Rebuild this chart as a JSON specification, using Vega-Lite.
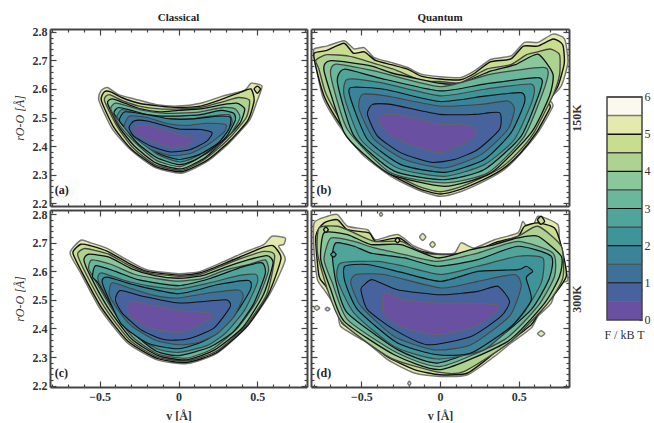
{"$schema":"https://vega.github.io/schema/vega-lite/v6.json","background":"white","padding":{"left":13,"top":11,"right":0,"bottom":0},
"params":[{"name":"xt","value":[-0.8,-0.7,-0.6,-0.5,-0.4,-0.3,-0.2,-0.1,0,0.1,0.2,0.3,0.4,0.5,0.6,0.7,0.8]},{"name":"yt","value":[2.2,2.22,2.24,2.26,2.28,2.3,2.32,2.34,2.36,2.38,2.4,2.42,2.44,2.46,2.48,2.5,2.52,2.54,2.56,2.58,2.6,2.62,2.64,2.66,2.68,2.7,2.72,2.74,2.76,2.78,2.8]},{"name":"ft","value":[0,0.2,0.4,0.6,0.8,1,1.2,1.4,1.6,1.8,2,2.2,2.4,2.6,2.8,3,3.2,3.4,3.6,3.8,4,4.2,4.4,4.6,4.8,5,5.2,5.4,5.6,5.8,6]}],
"config":{"font":"Liberation Serif","view":{"stroke":null},"range":{"ordinal":["#6a50a0","#47629d","#3d7198","#3b8398","#3f9499","#50a59b","#6bb79b","#8ac79b","#aed28f","#c9dd8e","#e4e9ad"]},"axis":{"grid":false,"domainColor":"#444","domainWidth":2,"tickColor":"#444","tickWidth":1.2,"labelFont":"Liberation Serif","labelFontWeight":"bold","labelFontSize":12,"labelColor":"#333","labelOverlap":false,"titleFont":"Liberation Serif","titleColor":"#333","titleFontSize":12}},
"datasets":{
"a":[
{"l":5.5,"v":-0.505,"r":2.56},{"l":5.5,"v":-0.49,"r":2.595},{"l":5.5,"v":-0.45,"r":2.605},{"l":5.5,"v":-0.38,"r":2.58},{"l":5.5,"v":-0.28,"r":2.565},{"l":5.5,"v":-0.14,"r":2.545},{"l":5.5,"v":0,"r":2.54},{"l":5.5,"v":0.14,"r":2.55},{"l":5.5,"v":0.28,"r":2.575},{"l":5.5,"v":0.42,"r":2.595},{"l":5.5,"v":0.46,"r":2.62},{"l":5.5,"v":0.53,"r":2.61},{"l":5.5,"v":0.5,"r":2.56},{"l":5.5,"v":0.45,"r":2.49},{"l":5.5,"v":0.32,"r":2.41},{"l":5.5,"v":0.18,"r":2.345},{"l":5.5,"v":0.02,"r":2.305},{"l":5.5,"v":-0.15,"r":2.325},{"l":5.5,"v":-0.3,"r":2.385},{"l":5.5,"v":-0.42,"r":2.46},
{"l":5,"v":-0.49,"r":2.56},{"l":5,"v":-0.47,"r":2.59},{"l":5,"v":-0.43,"r":2.59},{"l":5,"v":-0.36,"r":2.57},{"l":5,"v":-0.25,"r":2.55},{"l":5,"v":-0.12,"r":2.54},{"l":5,"v":0,"r":2.535},{"l":5,"v":0.14,"r":2.54},{"l":5,"v":0.28,"r":2.565},{"l":5,"v":0.4,"r":2.59},{"l":5,"v":0.46,"r":2.6},{"l":5,"v":0.48,"r":2.56},{"l":5,"v":0.44,"r":2.49},{"l":5,"v":0.32,"r":2.415},{"l":5,"v":0.18,"r":2.35},{"l":5,"v":0.02,"r":2.31},{"l":5,"v":-0.15,"r":2.33},{"l":5,"v":-0.3,"r":2.39},{"l":5,"v":-0.41,"r":2.465},
{"l":4.5,"v":-0.47,"r":2.56},{"l":4.5,"v":-0.44,"r":2.58},{"l":4.5,"v":-0.36,"r":2.56},{"l":4.5,"v":-0.25,"r":2.54},{"l":4.5,"v":-0.12,"r":2.53},{"l":4.5,"v":0,"r":2.53},{"l":4.5,"v":0.14,"r":2.535},{"l":4.5,"v":0.28,"r":2.555},{"l":4.5,"v":0.38,"r":2.57},{"l":4.5,"v":0.45,"r":2.56},{"l":4.5,"v":0.43,"r":2.5},{"l":4.5,"v":0.31,"r":2.42},{"l":4.5,"v":0.17,"r":2.355},{"l":4.5,"v":0.02,"r":2.315},{"l":4.5,"v":-0.15,"r":2.335},{"l":4.5,"v":-0.29,"r":2.395},{"l":4.5,"v":-0.39,"r":2.47},
{"l":4,"v":-0.45,"r":2.55},{"l":4,"v":-0.42,"r":2.565},{"l":4,"v":-0.34,"r":2.55},{"l":4,"v":-0.24,"r":2.53},{"l":4,"v":-0.12,"r":2.52},{"l":4,"v":0,"r":2.525},{"l":4,"v":0.14,"r":2.53},{"l":4,"v":0.28,"r":2.545},{"l":4,"v":0.37,"r":2.55},{"l":4,"v":0.42,"r":2.53},{"l":4,"v":0.39,"r":2.48},{"l":4,"v":0.29,"r":2.42},{"l":4,"v":0.17,"r":2.36},{"l":4,"v":0.02,"r":2.32},{"l":4,"v":-0.14,"r":2.34},{"l":4,"v":-0.28,"r":2.4},{"l":4,"v":-0.38,"r":2.47},
{"l":3.5,"v":-0.43,"r":2.53},{"l":3.5,"v":-0.4,"r":2.55},{"l":3.5,"v":-0.32,"r":2.54},{"l":3.5,"v":-0.22,"r":2.525},{"l":3.5,"v":-0.1,"r":2.515},{"l":3.5,"v":0,"r":2.515},{"l":3.5,"v":0.14,"r":2.52},{"l":3.5,"v":0.28,"r":2.535},{"l":3.5,"v":0.36,"r":2.53},{"l":3.5,"v":0.39,"r":2.5},{"l":3.5,"v":0.34,"r":2.45},{"l":3.5,"v":0.25,"r":2.4},{"l":3.5,"v":0.15,"r":2.365},{"l":3.5,"v":0.01,"r":2.328},{"l":3.5,"v":-0.14,"r":2.35},{"l":3.5,"v":-0.27,"r":2.41},{"l":3.5,"v":-0.37,"r":2.47},
{"l":3,"v":-0.41,"r":2.515},{"l":3,"v":-0.38,"r":2.535},{"l":3,"v":-0.3,"r":2.525},{"l":3,"v":-0.2,"r":2.51},{"l":3,"v":-0.1,"r":2.505},{"l":3,"v":0,"r":2.505},{"l":3,"v":0.14,"r":2.51},{"l":3,"v":0.27,"r":2.525},{"l":3,"v":0.35,"r":2.515},{"l":3,"v":0.36,"r":2.49},{"l":3,"v":0.3,"r":2.43},{"l":3,"v":0.2,"r":2.385},{"l":3,"v":0.1,"r":2.35},{"l":3,"v":0,"r":2.335},{"l":3,"v":-0.14,"r":2.36},{"l":3,"v":-0.26,"r":2.41},{"l":3,"v":-0.35,"r":2.47},
{"l":2.5,"v":-0.39,"r":2.5},{"l":2.5,"v":-0.36,"r":2.528},{"l":2.5,"v":-0.28,"r":2.515},{"l":2.5,"v":-0.18,"r":2.5},{"l":2.5,"v":-0.05,"r":2.495},{"l":2.5,"v":0.07,"r":2.495},{"l":2.5,"v":0.2,"r":2.505},{"l":2.5,"v":0.32,"r":2.51},{"l":2.5,"v":0.34,"r":2.48},{"l":2.5,"v":0.28,"r":2.43},{"l":2.5,"v":0.18,"r":2.385},{"l":2.5,"v":0.08,"r":2.355},{"l":2.5,"v":0,"r":2.345},{"l":2.5,"v":-0.13,"r":2.37},{"l":2.5,"v":-0.25,"r":2.42},{"l":2.5,"v":-0.33,"r":2.47},
{"l":2,"v":-0.375,"r":2.49},{"l":2,"v":-0.34,"r":2.52},{"l":2,"v":-0.2,"r":2.51},{"l":2,"v":-0.05,"r":2.495},{"l":2,"v":0.1,"r":2.495},{"l":2,"v":0.25,"r":2.505},{"l":2,"v":0.33,"r":2.5},{"l":2,"v":0.32,"r":2.46},{"l":2,"v":0.25,"r":2.41},{"l":2,"v":0.13,"r":2.37},{"l":2,"v":0,"r":2.353},{"l":2,"v":-0.13,"r":2.375},{"l":2,"v":-0.25,"r":2.425},{"l":2,"v":-0.33,"r":2.46},
{"l":1.5,"v":-0.345,"r":2.47},{"l":1.5,"v":-0.31,"r":2.505},{"l":1.5,"v":-0.2,"r":2.5},{"l":1.5,"v":-0.08,"r":2.48},{"l":1.5,"v":0.05,"r":2.472},{"l":1.5,"v":0.18,"r":2.48},{"l":1.5,"v":0.3,"r":2.475},{"l":1.5,"v":0.29,"r":2.45},{"l":1.5,"v":0.2,"r":2.41},{"l":1.5,"v":0.08,"r":2.375},{"l":1.5,"v":-0.05,"r":2.367},{"l":1.5,"v":-0.18,"r":2.39},{"l":1.5,"v":-0.3,"r":2.44},
{"l":1,"v":-0.314,"r":2.464},{"l":1,"v":-0.283,"r":2.488},{"l":1,"v":-0.2,"r":2.488},{"l":1,"v":0,"r":2.46},{"l":1,"v":0.14,"r":2.458},{"l":1,"v":0.213,"r":2.447},{"l":1,"v":0.18,"r":2.417},{"l":1,"v":0.076,"r":2.388},{"l":1,"v":-0.05,"r":2.379},{"l":1,"v":-0.177,"r":2.4},{"l":1,"v":-0.283,"r":2.435},
{"l":0.5,"v":-0.283,"r":2.452},{"l":0.5,"v":-0.262,"r":2.47},{"l":0.5,"v":-0.177,"r":2.47},{"l":0.5,"v":0,"r":2.44},{"l":0.5,"v":0.086,"r":2.429},{"l":0.5,"v":0.093,"r":2.417},{"l":0.5,"v":0.044,"r":2.4},{"l":0.5,"v":-0.05,"r":2.396},{"l":0.5,"v":-0.177,"r":2.417},{"l":0.5,"v":-0.25,"r":2.435},
{"l":5,"k":1,"v":0.48,"r":2.6},{"l":5,"k":1,"v":0.5,"r":2.61},{"l":5,"k":1,"v":0.52,"r":2.6},{"l":5,"k":1,"v":0.5,"r":2.585}],
"c":[
{"l":5.5,"v":-0.688,"r":2.664},{"l":5.5,"v":-0.62,"r":2.709},{"l":5.5,"v":-0.557,"r":2.7},{"l":5.5,"v":-0.45,"r":2.68},{"l":5.5,"v":-0.325,"r":2.64},{"l":5.5,"v":-0.198,"r":2.605},{"l":5.5,"v":0,"r":2.592},{"l":5.5,"v":0.14,"r":2.6},{"l":5.5,"v":0.31,"r":2.64},{"l":5.5,"v":0.41,"r":2.665},{"l":5.5,"v":0.54,"r":2.694},{"l":5.5,"v":0.593,"r":2.723},{"l":5.5,"v":0.677,"r":2.717},{"l":5.5,"v":0.667,"r":2.694},{"l":5.5,"v":0.635,"r":2.688},{"l":5.5,"v":0.677,"r":2.64},{"l":5.5,"v":0.582,"r":2.524},{"l":5.5,"v":0.435,"r":2.407},{"l":5.5,"v":0.245,"r":2.314},{"l":5.5,"v":0.055,"r":2.277},{"l":5.5,"v":-0.135,"r":2.29},{"l":5.5,"v":-0.325,"r":2.35},{"l":5.5,"v":-0.494,"r":2.466},{"l":5.5,"v":-0.62,"r":2.594},
{"l":5,"v":-0.67,"r":2.665},{"l":5,"v":-0.62,"r":2.695},{"l":5,"v":-0.56,"r":2.69},{"l":5,"v":-0.45,"r":2.67},{"l":5,"v":-0.32,"r":2.63},{"l":5,"v":-0.2,"r":2.6},{"l":5,"v":0,"r":2.587},{"l":5,"v":0.14,"r":2.595},{"l":5,"v":0.31,"r":2.632},{"l":5,"v":0.41,"r":2.655},{"l":5,"v":0.54,"r":2.685},{"l":5,"v":0.6,"r":2.69},{"l":5,"v":0.65,"r":2.645},{"l":5,"v":0.57,"r":2.52},{"l":5,"v":0.43,"r":2.405},{"l":5,"v":0.24,"r":2.315},{"l":5,"v":0.05,"r":2.281},{"l":5,"v":-0.135,"r":2.295},{"l":5,"v":-0.32,"r":2.355},{"l":5,"v":-0.485,"r":2.47},{"l":5,"v":-0.61,"r":2.595},
{"l":4.5,"v":-0.64,"r":2.66},{"l":4.5,"v":-0.6,"r":2.68},{"l":4.5,"v":-0.54,"r":2.675},{"l":4.5,"v":-0.44,"r":2.66},{"l":4.5,"v":-0.31,"r":2.62},{"l":4.5,"v":-0.19,"r":2.595},{"l":4.5,"v":0,"r":2.583},{"l":4.5,"v":0.14,"r":2.59},{"l":4.5,"v":0.3,"r":2.625},{"l":4.5,"v":0.42,"r":2.65},{"l":4.5,"v":0.54,"r":2.67},{"l":4.5,"v":0.61,"r":2.655},{"l":4.5,"v":0.56,"r":2.52},{"l":4.5,"v":0.42,"r":2.405},{"l":4.5,"v":0.24,"r":2.32},{"l":4.5,"v":0.05,"r":2.286},{"l":4.5,"v":-0.135,"r":2.3},{"l":4.5,"v":-0.31,"r":2.36},{"l":4.5,"v":-0.47,"r":2.475},{"l":4.5,"v":-0.59,"r":2.595},
{"l":4,"v":-0.6,"r":2.64},{"l":4,"v":-0.57,"r":2.66},{"l":4,"v":-0.44,"r":2.65},{"l":4,"v":-0.3,"r":2.61},{"l":4,"v":-0.15,"r":2.585},{"l":4,"v":0,"r":2.576},{"l":4,"v":0.15,"r":2.585},{"l":4,"v":0.3,"r":2.615},{"l":4,"v":0.44,"r":2.64},{"l":4,"v":0.56,"r":2.655},{"l":4,"v":0.6,"r":2.63},{"l":4,"v":0.54,"r":2.52},{"l":4,"v":0.41,"r":2.405},{"l":4,"v":0.23,"r":2.325},{"l":4,"v":0.05,"r":2.29},{"l":4,"v":-0.13,"r":2.305},{"l":4,"v":-0.3,"r":2.365},{"l":4,"v":-0.45,"r":2.475},{"l":4,"v":-0.56,"r":2.585},
{"l":3.5,"v":-0.57,"r":2.61},{"l":3.5,"v":-0.55,"r":2.64},{"l":3.5,"v":-0.43,"r":2.625},{"l":3.5,"v":-0.28,"r":2.59},{"l":3.5,"v":-0.14,"r":2.575},{"l":3.5,"v":0,"r":2.566},{"l":3.5,"v":0.15,"r":2.575},{"l":3.5,"v":0.3,"r":2.605},{"l":3.5,"v":0.45,"r":2.625},{"l":3.5,"v":0.55,"r":2.64},{"l":3.5,"v":0.57,"r":2.6},{"l":3.5,"v":0.5,"r":2.5},{"l":3.5,"v":0.38,"r":2.405},{"l":3.5,"v":0.22,"r":2.33},{"l":3.5,"v":0.05,"r":2.296},{"l":3.5,"v":-0.13,"r":2.31},{"l":3.5,"v":-0.29,"r":2.37},{"l":3.5,"v":-0.43,"r":2.475},{"l":3.5,"v":-0.53,"r":2.57},
{"l":3,"v":-0.545,"r":2.58},{"l":3,"v":-0.525,"r":2.62},{"l":3,"v":-0.4,"r":2.6},{"l":3,"v":-0.25,"r":2.57},{"l":3,"v":0,"r":2.55},{"l":3,"v":0.2,"r":2.575},{"l":3,"v":0.4,"r":2.615},{"l":3,"v":0.53,"r":2.63},{"l":3,"v":0.55,"r":2.59},{"l":3,"v":0.47,"r":2.48},{"l":3,"v":0.35,"r":2.39},{"l":3,"v":0.2,"r":2.335},{"l":3,"v":0,"r":2.305},{"l":3,"v":-0.14,"r":2.32},{"l":3,"v":-0.28,"r":2.38},{"l":3,"v":-0.42,"r":2.475},{"l":3,"v":-0.51,"r":2.56},
{"l":2.5,"v":-0.51,"r":2.57},{"l":2.5,"v":-0.49,"r":2.595},{"l":2.5,"v":-0.35,"r":2.57},{"l":2.5,"v":-0.2,"r":2.55},{"l":2.5,"v":0,"r":2.538},{"l":2.5,"v":0.2,"r":2.56},{"l":2.5,"v":0.38,"r":2.585},{"l":2.5,"v":0.49,"r":2.59},{"l":2.5,"v":0.5,"r":2.56},{"l":2.5,"v":0.42,"r":2.465},{"l":2.5,"v":0.3,"r":2.385},{"l":2.5,"v":0.18,"r":2.34},{"l":2.5,"v":0,"r":2.316},{"l":2.5,"v":-0.14,"r":2.33},{"l":2.5,"v":-0.3,"r":2.39},{"l":2.5,"v":-0.43,"r":2.49},
{"l":2,"v":-0.483,"r":2.559},{"l":2,"v":-0.451,"r":2.58},{"l":2,"v":-0.283,"r":2.553},{"l":2,"v":0,"r":2.522},{"l":2,"v":0.245,"r":2.553},{"l":2,"v":0.445,"r":2.568},{"l":2,"v":0.456,"r":2.536},{"l":2,"v":0.35,"r":2.442},{"l":2,"v":0.18,"r":2.361},{"l":2,"v":0,"r":2.329},{"l":2,"v":-0.198,"r":2.349},{"l":2,"v":-0.367,"r":2.419},
{"l":1.5,"v":-0.44,"r":2.52},{"l":1.5,"v":-0.42,"r":2.56},{"l":1.5,"v":-0.3,"r":2.54},{"l":1.5,"v":-0.15,"r":2.515},{"l":1.5,"v":0,"r":2.507},{"l":1.5,"v":0.2,"r":2.525},{"l":1.5,"v":0.38,"r":2.535},{"l":1.5,"v":0.41,"r":2.51},{"l":1.5,"v":0.35,"r":2.44},{"l":1.5,"v":0.24,"r":2.38},{"l":1.5,"v":0.12,"r":2.35},{"l":1.5,"v":0,"r":2.343},{"l":1.5,"v":-0.15,"r":2.36},{"l":1.5,"v":-0.3,"r":2.41},{"l":1.5,"v":-0.39,"r":2.47},
{"l":1,"v":-0.4,"r":2.5},{"l":1,"v":-0.369,"r":2.533},{"l":1,"v":-0.219,"r":2.512},{"l":1,"v":0,"r":2.489},{"l":1,"v":0.224,"r":2.498},{"l":1,"v":0.308,"r":2.5},{"l":1,"v":0.329,"r":2.477},{"l":1,"v":0.224,"r":2.401},{"l":1,"v":0.055,"r":2.363},{"l":1,"v":-0.093,"r":2.361},{"l":1,"v":-0.24,"r":2.396},{"l":1,"v":-0.357,"r":2.454},
{"l":0.5,"v":-0.325,"r":2.466},{"l":0.5,"v":-0.304,"r":2.495},{"l":0.5,"v":-0.177,"r":2.483},{"l":0.5,"v":0,"r":2.463},{"l":0.5,"v":0.203,"r":2.454},{"l":0.5,"v":0.207,"r":2.436},{"l":0.5,"v":0.097,"r":2.401},{"l":0.5,"v":-0.008,"r":2.386},{"l":0.5,"v":-0.177,"r":2.401},{"l":0.5,"v":-0.293,"r":2.436}],
"b":[
{"l":5.5,"v":-0.8,"r":2.71},{"l":5.5,"v":-0.8,"r":2.74},{"l":5.5,"v":-0.715,"r":2.751},{"l":5.5,"v":-0.609,"r":2.769},{"l":5.5,"v":-0.546,"r":2.74},{"l":5.5,"v":-0.482,"r":2.745},{"l":5.5,"v":-0.418,"r":2.71},{"l":5.5,"v":-0.312,"r":2.693},{"l":5.5,"v":-0.206,"r":2.675},{"l":5.5,"v":-0.121,"r":2.652},{"l":5.5,"v":0,"r":2.643},{"l":5.5,"v":0.134,"r":2.64},{"l":5.5,"v":0.219,"r":2.663},{"l":5.5,"v":0.325,"r":2.704},{"l":5.5,"v":0.452,"r":2.716},{"l":5.5,"v":0.537,"r":2.763},{"l":5.5,"v":0.622,"r":2.763},{"l":5.5,"v":0.718,"r":2.792},{"l":5.5,"v":0.792,"r":2.775},{"l":5.5,"v":0.813,"r":2.693},{"l":5.5,"v":0.771,"r":2.611},{"l":5.5,"v":0.696,"r":2.564},{"l":5.5,"v":0.718,"r":2.54},{"l":5.5,"v":0.622,"r":2.447},{"l":5.5,"v":0.516,"r":2.376},{"l":5.5,"v":0.41,"r":2.318},{"l":5.5,"v":0.282,"r":2.277},{"l":5.5,"v":0.134,"r":2.241},{"l":5.5,"v":0,"r":2.224},{"l":5.5,"v":-0.142,"r":2.247},{"l":5.5,"v":-0.312,"r":2.294},{"l":5.5,"v":-0.482,"r":2.364},{"l":5.5,"v":-0.609,"r":2.447},{"l":5.5,"v":-0.694,"r":2.517},{"l":5.5,"v":-0.747,"r":2.575},
{"l":5,"v":-0.8,"r":2.725},{"l":5,"v":-0.72,"r":2.735},{"l":5,"v":-0.61,"r":2.76},{"l":5,"v":-0.55,"r":2.725},{"l":5,"v":-0.48,"r":2.73},{"l":5,"v":-0.41,"r":2.7},{"l":5,"v":-0.31,"r":2.685},{"l":5,"v":-0.2,"r":2.668},{"l":5,"v":-0.12,"r":2.645},{"l":5,"v":0,"r":2.635},{"l":5,"v":0.13,"r":2.632},{"l":5,"v":0.22,"r":2.655},{"l":5,"v":0.32,"r":2.695},{"l":5,"v":0.45,"r":2.705},{"l":5,"v":0.53,"r":2.75},{"l":5,"v":0.62,"r":2.75},{"l":5,"v":0.72,"r":2.775},{"l":5,"v":0.78,"r":2.755},{"l":5,"v":0.79,"r":2.69},{"l":5,"v":0.75,"r":2.61},{"l":5,"v":0.69,"r":2.555},{"l":5,"v":0.7,"r":2.535},{"l":5,"v":0.61,"r":2.445},{"l":5,"v":0.51,"r":2.375},{"l":5,"v":0.4,"r":2.32},{"l":5,"v":0.28,"r":2.283},{"l":5,"v":0.13,"r":2.248},{"l":5,"v":0,"r":2.232},{"l":5,"v":-0.14,"r":2.252},{"l":5,"v":-0.31,"r":2.3},{"l":5,"v":-0.47,"r":2.37},{"l":5,"v":-0.6,"r":2.45},{"l":5,"v":-0.685,"r":2.52},{"l":5,"v":-0.74,"r":2.58},{"l":5,"v":-0.79,"r":2.68},
{"l":4.5,"v":-0.79,"r":2.7},{"l":4.5,"v":-0.72,"r":2.72},{"l":4.5,"v":-0.58,"r":2.715},{"l":4.5,"v":-0.48,"r":2.7},{"l":4.5,"v":-0.3,"r":2.67},{"l":4.5,"v":-0.12,"r":2.63},{"l":4.5,"v":0,"r":2.626},{"l":4.5,"v":0.13,"r":2.622},{"l":4.5,"v":0.3,"r":2.67},{"l":4.5,"v":0.45,"r":2.685},{"l":4.5,"v":0.55,"r":2.72},{"l":4.5,"v":0.62,"r":2.73},{"l":4.5,"v":0.7,"r":2.74},{"l":4.5,"v":0.76,"r":2.72},{"l":4.5,"v":0.76,"r":2.65},{"l":4.5,"v":0.72,"r":2.58},{"l":4.5,"v":0.6,"r":2.45},{"l":4.5,"v":0.5,"r":2.38},{"l":4.5,"v":0.39,"r":2.325},{"l":4.5,"v":0.27,"r":2.29},{"l":4.5,"v":0.13,"r":2.257},{"l":4.5,"v":0,"r":2.24},{"l":4.5,"v":-0.14,"r":2.26},{"l":4.5,"v":-0.3,"r":2.305},{"l":4.5,"v":-0.46,"r":2.375},{"l":4.5,"v":-0.59,"r":2.455},{"l":4.5,"v":-0.67,"r":2.525},{"l":4.5,"v":-0.73,"r":2.59},{"l":4.5,"v":-0.77,"r":2.67},
{"l":4,"v":-0.737,"r":2.663},{"l":4,"v":-0.694,"r":2.699},{"l":4,"v":-0.44,"r":2.681},{"l":4,"v":-0.3,"r":2.655},{"l":4,"v":0,"r":2.62},{"l":4,"v":0.13,"r":2.62},{"l":4,"v":0.325,"r":2.663},{"l":4,"v":0.48,"r":2.685},{"l":4,"v":0.622,"r":2.722},{"l":4,"v":0.718,"r":2.652},{"l":4,"v":0.696,"r":2.575},{"l":4,"v":0.58,"r":2.447},{"l":4,"v":0.325,"r":2.306},{"l":4,"v":0.028,"r":2.259},{"l":4,"v":-0.312,"r":2.3},{"l":4,"v":-0.48,"r":2.37},{"l":4,"v":-0.609,"r":2.447},
{"l":3.5,"v":-0.694,"r":2.646},{"l":3.5,"v":-0.662,"r":2.687},{"l":3.5,"v":-0.418,"r":2.663},{"l":3.5,"v":0,"r":2.608},{"l":3.5,"v":0.325,"r":2.652},{"l":3.5,"v":0.665,"r":2.675},{"l":3.5,"v":0.675,"r":2.622},{"l":3.5,"v":0.537,"r":2.435},{"l":3.5,"v":0.304,"r":2.306},{"l":3.5,"v":0.028,"r":2.271},{"l":3.5,"v":-0.312,"r":2.306},{"l":3.5,"v":-0.588,"r":2.458},
{"l":3,"v":-0.652,"r":2.622},{"l":3,"v":-0.609,"r":2.669},{"l":3,"v":-0.397,"r":2.64},{"l":3,"v":0,"r":2.593},{"l":3,"v":0.282,"r":2.617},{"l":3,"v":0.622,"r":2.64},{"l":3,"v":0.643,"r":2.605},{"l":3,"v":0.516,"r":2.435},{"l":3,"v":0.282,"r":2.318},{"l":3,"v":0.028,"r":2.282},{"l":3,"v":-0.291,"r":2.312},{"l":3,"v":-0.546,"r":2.435},
{"l":2.5,"v":-0.609,"r":2.575},{"l":2.5,"v":-0.588,"r":2.634},{"l":2.5,"v":-0.376,"r":2.622},{"l":2.5,"v":0,"r":2.576},{"l":2.5,"v":0.282,"r":2.599},{"l":2.5,"v":0.58,"r":2.617},{"l":2.5,"v":0.59,"r":2.564},{"l":2.5,"v":0.473,"r":2.423},{"l":2.5,"v":0.282,"r":2.335},{"l":2.5,"v":0.028,"r":2.294},{"l":2.5,"v":-0.27,"r":2.323},{"l":2.5,"v":-0.503,"r":2.423},
{"l":2,"v":-0.567,"r":2.564},{"l":2,"v":-0.567,"r":2.605},{"l":2,"v":-0.355,"r":2.599},{"l":2,"v":0,"r":2.556},{"l":2,"v":0.282,"r":2.575},{"l":2,"v":0.516,"r":2.587},{"l":2,"v":0.537,"r":2.552},{"l":2,"v":0.452,"r":2.447},{"l":2,"v":0.282,"r":2.353},{"l":2,"v":0.028,"r":2.308},{"l":2,"v":-0.248,"r":2.335},{"l":2,"v":-0.461,"r":2.423},
{"l":1.5,"v":-0.514,"r":2.529},{"l":1.5,"v":-0.493,"r":2.581},{"l":1.5,"v":-0.333,"r":2.575},{"l":1.5,"v":0,"r":2.54},{"l":1.5,"v":0.261,"r":2.546},{"l":1.5,"v":0.431,"r":2.558},{"l":1.5,"v":0.473,"r":2.529},{"l":1.5,"v":0.431,"r":2.458},{"l":1.5,"v":0.261,"r":2.37},{"l":1.5,"v":0.028,"r":2.323},{"l":1.5,"v":-0.227,"r":2.353},{"l":1.5,"v":-0.418,"r":2.423},
{"l":1,"v":-0.461,"r":2.511},{"l":1,"v":-0.429,"r":2.546},{"l":1,"v":-0.312,"r":2.546},{"l":1,"v":0,"r":2.511},{"l":1,"v":0.219,"r":2.511},{"l":1,"v":0.378,"r":2.517},{"l":1,"v":0.378,"r":2.458},{"l":1,"v":0.24,"r":2.388},{"l":1,"v":0.091,"r":2.353},{"l":1,"v":-0.057,"r":2.343},{"l":1,"v":-0.248,"r":2.376},{"l":1,"v":-0.397,"r":2.435},
{"l":0.5,"v":-0.386,"r":2.482},{"l":0.5,"v":-0.376,"r":2.505},{"l":0.5,"v":-0.27,"r":2.511},{"l":0.5,"v":0,"r":2.476},{"l":0.5,"v":0.155,"r":2.476},{"l":0.5,"v":0.229,"r":2.458},{"l":0.5,"v":0.197,"r":2.423},{"l":0.5,"v":0.113,"r":2.4},{"l":0.5,"v":0,"r":2.376},{"l":0.5,"v":-0.163,"r":2.4},{"l":0.5,"v":-0.312,"r":2.435}],
"d":[
{"l":5.5,"v":-0.8,"r":2.77},{"l":5.5,"v":-0.715,"r":2.793},{"l":5.5,"v":-0.652,"r":2.799},{"l":5.5,"v":-0.588,"r":2.758},{"l":5.5,"v":-0.461,"r":2.746},{"l":5.5,"v":-0.408,"r":2.711},{"l":5.5,"v":-0.27,"r":2.729},{"l":5.5,"v":-0.163,"r":2.688},{"l":5.5,"v":-0.036,"r":2.664},{"l":5.5,"v":0.091,"r":2.664},{"l":5.5,"v":0.134,"r":2.7},{"l":5.5,"v":0.219,"r":2.682},{"l":5.5,"v":0.346,"r":2.711},{"l":5.5,"v":0.495,"r":2.735},{"l":5.5,"v":0.527,"r":2.775},{"l":5.5,"v":0.58,"r":2.735},{"l":5.5,"v":0.622,"r":2.793},{"l":5.5,"v":0.749,"r":2.764},{"l":5.5,"v":0.76,"r":2.7},{"l":5.5,"v":0.813,"r":2.571},{"l":5.5,"v":0.749,"r":2.559},{"l":5.5,"v":0.707,"r":2.489},{"l":5.5,"v":0.622,"r":2.443},{"l":5.5,"v":0.58,"r":2.402},{"l":5.5,"v":0.452,"r":2.349},{"l":5.5,"v":0.346,"r":2.302},{"l":5.5,"v":0.176,"r":2.238},{"l":5.5,"v":0,"r":2.232},{"l":5.5,"v":-0.163,"r":2.244},{"l":5.5,"v":-0.333,"r":2.291},{"l":5.5,"v":-0.461,"r":2.349},{"l":5.5,"v":-0.631,"r":2.407},{"l":5.5,"v":-0.652,"r":2.466},{"l":5.5,"v":-0.737,"r":2.536},{"l":5.5,"v":-0.779,"r":2.571},{"l":5.5,"v":-0.8,"r":2.664},
{"l":5,"v":-0.79,"r":2.723},{"l":5,"v":-0.737,"r":2.77},{"l":5,"v":-0.652,"r":2.781},{"l":5,"v":-0.588,"r":2.746},{"l":5,"v":-0.45,"r":2.735},{"l":5,"v":-0.408,"r":2.705},{"l":5,"v":-0.259,"r":2.717},{"l":5,"v":-0.153,"r":2.676},{"l":5,"v":-0.015,"r":2.659},{"l":5,"v":0.113,"r":2.659},{"l":5,"v":0.219,"r":2.67},{"l":5,"v":0.346,"r":2.7},{"l":5,"v":0.495,"r":2.723},{"l":5,"v":0.537,"r":2.758},{"l":5,"v":0.622,"r":2.77},{"l":5,"v":0.728,"r":2.752},{"l":5,"v":0.771,"r":2.688},{"l":5,"v":0.803,"r":2.583},{"l":5,"v":0.718,"r":2.513},{"l":5,"v":0.622,"r":2.448},{"l":5,"v":0.58,"r":2.413},{"l":5,"v":0.452,"r":2.358},{"l":5,"v":0.346,"r":2.314},{"l":5,"v":0.176,"r":2.244},{"l":5,"v":0,"r":2.238},{"l":5,"v":-0.163,"r":2.256},{"l":5,"v":-0.333,"r":2.3},{"l":5,"v":-0.461,"r":2.358},{"l":5,"v":-0.62,"r":2.417},{"l":5,"v":-0.641,"r":2.466},{"l":5,"v":-0.726,"r":2.548},{"l":5,"v":-0.769,"r":2.583},
{"l":4.5,"v":-0.779,"r":2.664},{"l":4.5,"v":-0.769,"r":2.752},{"l":4.5,"v":-0.652,"r":2.758},{"l":4.5,"v":-0.567,"r":2.74},{"l":4.5,"v":-0.418,"r":2.705},{"l":4.5,"v":-0.248,"r":2.705},{"l":4.5,"v":-0.1,"r":2.664},{"l":4.5,"v":0.07,"r":2.659},{"l":4.5,"v":0.24,"r":2.676},{"l":4.5,"v":0.495,"r":2.723},{"l":4.5,"v":0.622,"r":2.758},{"l":4.5,"v":0.771,"r":2.688},{"l":4.5,"v":0.781,"r":2.577},{"l":4.5,"v":0.686,"r":2.489},{"l":4.5,"v":0.452,"r":2.355},{"l":4.5,"v":0.155,"r":2.25},{"l":4.5,"v":0,"r":2.246},{"l":4.5,"v":-0.312,"r":2.296},{"l":4.5,"v":-0.62,"r":2.419},{"l":4.5,"v":-0.715,"r":2.536},
{"l":4,"v":-0.758,"r":2.641},{"l":4,"v":-0.737,"r":2.735},{"l":4,"v":-0.588,"r":2.729},{"l":4,"v":-0.439,"r":2.694},{"l":4,"v":-0.248,"r":2.694},{"l":4,"v":-0.015,"r":2.647},{"l":4,"v":0.197,"r":2.676},{"l":4,"v":0.346,"r":2.694},{"l":4,"v":0.495,"r":2.717},{"l":4,"v":0.622,"r":2.723},{"l":4,"v":0.771,"r":2.653},{"l":4,"v":0.76,"r":2.583},{"l":4,"v":0.665,"r":2.489},{"l":4,"v":0.431,"r":2.355},{"l":4,"v":0.006,"r":2.256},{"l":4,"v":-0.291,"r":2.308},{"l":4,"v":-0.609,"r":2.425},{"l":4,"v":-0.694,"r":2.536},
{"l":3.5,"v":-0.737,"r":2.641},{"l":3.5,"v":-0.694,"r":2.717},{"l":3.5,"v":-0.546,"r":2.705},{"l":3.5,"v":-0.418,"r":2.682},{"l":3.5,"v":-0.227,"r":2.659},{"l":3.5,"v":-0.015,"r":2.635},{"l":3.5,"v":0.24,"r":2.664},{"l":3.5,"v":0.495,"r":2.705},{"l":3.5,"v":0.718,"r":2.664},{"l":3.5,"v":0.728,"r":2.583},{"l":3.5,"v":0.622,"r":2.478},{"l":3.5,"v":0.41,"r":2.361},{"l":3.5,"v":0.006,"r":2.267},{"l":3.5,"v":-0.27,"r":2.314},{"l":3.5,"v":-0.588,"r":2.431},{"l":3.5,"v":-0.684,"r":2.559},
{"l":3,"v":-0.684,"r":2.653},{"l":3,"v":-0.662,"r":2.7},{"l":3,"v":-0.546,"r":2.688},{"l":3,"v":-0.439,"r":2.664},{"l":3,"v":-0.227,"r":2.647},{"l":3,"v":-0.015,"r":2.618},{"l":3,"v":0.24,"r":2.641},{"l":3,"v":0.495,"r":2.688},{"l":3,"v":0.707,"r":2.653},{"l":3,"v":0.696,"r":2.577},{"l":3,"v":0.58,"r":2.466},{"l":3,"v":0.325,"r":2.349},{"l":3,"v":-0.015,"r":2.279},{"l":3,"v":-0.27,"r":2.326},{"l":3,"v":-0.588,"r":2.454},{"l":3,"v":-0.66,"r":2.56},
{"l":2.5,"v":-0.652,"r":2.571},{"l":2.5,"v":-0.631,"r":2.629},{"l":2.5,"v":-0.397,"r":2.635},{"l":2.5,"v":-0.227,"r":2.618},{"l":2.5,"v":0.006,"r":2.589},{"l":2.5,"v":0.24,"r":2.618},{"l":2.5,"v":0.495,"r":2.653},{"l":2.5,"v":0.654,"r":2.647},{"l":2.5,"v":0.643,"r":2.559},{"l":2.5,"v":0.516,"r":2.443},{"l":2.5,"v":0.282,"r":2.326},{"l":2.5,"v":-0.015,"r":2.293},{"l":2.5,"v":-0.291,"r":2.337},{"l":2.5,"v":-0.546,"r":2.454},
{"l":2,"v":-0.605,"r":2.565},{"l":2,"v":-0.605,"r":2.618},{"l":2,"v":-0.461,"r":2.624},{"l":2,"v":-0.227,"r":2.594},{"l":2,"v":0.006,"r":2.565},{"l":2,"v":0.24,"r":2.6},{"l":2,"v":0.495,"r":2.606},{"l":2,"v":0.548,"r":2.618},{"l":2,"v":0.59,"r":2.6},{"l":2,"v":0.548,"r":2.577},{"l":2,"v":0.58,"r":2.5},{"l":2,"v":0.452,"r":2.407},{"l":2,"v":0.197,"r":2.314},{"l":2,"v":-0.015,"r":2.308},{"l":2,"v":-0.27,"r":2.349},{"l":2,"v":-0.524,"r":2.466},
{"l":1.5,"v":-0.567,"r":2.559},{"l":1.5,"v":-0.535,"r":2.589},{"l":1.5,"v":-0.355,"r":2.589},{"l":1.5,"v":0.006,"r":2.542},{"l":1.5,"v":0.24,"r":2.565},{"l":1.5,"v":0.473,"r":2.589},{"l":1.5,"v":0.516,"r":2.548},{"l":1.5,"v":0.442,"r":2.443},{"l":1.5,"v":0.197,"r":2.343},{"l":1.5,"v":-0.036,"r":2.325},{"l":1.5,"v":-0.291,"r":2.372},{"l":1.5,"v":-0.503,"r":2.478},
{"l":1,"v":-0.503,"r":2.536},{"l":1,"v":-0.482,"r":2.553},{"l":1,"v":-0.429,"r":2.571},{"l":1,"v":-0.27,"r":2.536},{"l":1,"v":0.006,"r":2.518},{"l":1,"v":0.24,"r":2.53},{"l":1,"v":0.367,"r":2.548},{"l":1,"v":0.442,"r":2.495},{"l":1,"v":0.389,"r":2.443},{"l":1,"v":0.197,"r":2.372},{"l":1,"v":-0.079,"r":2.343},{"l":1,"v":-0.291,"r":2.396},{"l":1,"v":-0.461,"r":2.466},
{"l":0.5,"v":-0.365,"r":2.466},{"l":0.5,"v":-0.355,"r":2.524},{"l":0.5,"v":-0.227,"r":2.501},{"l":0.5,"v":-0.015,"r":2.489},{"l":0.5,"v":0.155,"r":2.489},{"l":0.5,"v":0.367,"r":2.483},{"l":0.5,"v":0.367,"r":2.466},{"l":0.5,"v":0.293,"r":2.431},{"l":0.5,"v":0.197,"r":2.402},{"l":0.5,"v":-0.015,"r":2.378},{"l":0.5,"v":-0.227,"r":2.402},{"l":0.5,"v":-0.333,"r":2.437},
{"l":5.5,"k":1,"v":-0.8,"r":2.472},{"l":5.5,"k":1,"v":-0.783,"r":2.48},{"l":5.5,"k":1,"v":-0.765,"r":2.472},{"l":5.5,"k":1,"v":-0.783,"r":2.464},
{"l":5.5,"k":2,"v":-0.73,"r":2.468},{"l":5.5,"k":2,"v":-0.715,"r":2.474},{"l":5.5,"k":2,"v":-0.7,"r":2.468},{"l":5.5,"k":2,"v":-0.715,"r":2.462},
{"l":5.5,"k":3,"v":0.62,"r":2.382},{"l":5.5,"k":3,"v":0.643,"r":2.392},{"l":5.5,"k":3,"v":0.666,"r":2.382},{"l":5.5,"k":3,"v":0.643,"r":2.372},
{"l":5.5,"k":4,"v":-0.13,"r":2.72},{"l":5.5,"k":4,"v":-0.11,"r":2.733},{"l":5.5,"k":4,"v":-0.09,"r":2.72},{"l":5.5,"k":4,"v":-0.11,"r":2.708},
{"l":5.5,"k":5,"v":-0.065,"r":2.694},{"l":5.5,"k":5,"v":-0.047,"r":2.705},{"l":5.5,"k":5,"v":-0.03,"r":2.694},{"l":5.5,"k":5,"v":-0.047,"r":2.684},
{"l":5.5,"k":6,"v":-0.385,"r":2.8},{"l":5.5,"k":6,"v":-0.375,"r":2.807},{"l":5.5,"k":6,"v":-0.365,"r":2.8},{"l":5.5,"k":6,"v":-0.375,"r":2.793},
{"l":5.5,"k":7,"v":-0.205,"r":2.208},{"l":5.5,"k":7,"v":-0.195,"r":2.215},{"l":5.5,"k":7,"v":-0.185,"r":2.208},{"l":5.5,"k":7,"v":-0.195,"r":2.201},
{"l":5,"k":8,"v":-0.74,"r":2.746},{"l":5,"k":8,"v":-0.725,"r":2.755},{"l":5,"k":8,"v":-0.71,"r":2.746},{"l":5,"k":8,"v":-0.725,"r":2.737},
{"l":5,"k":9,"v":0.62,"r":2.781},{"l":5,"k":9,"v":0.643,"r":2.793},{"l":5,"k":9,"v":0.665,"r":2.775},{"l":5,"k":9,"v":0.64,"r":2.765},
{"l":5,"k":10,"v":-0.285,"r":2.709},{"l":5,"k":10,"v":-0.27,"r":2.718},{"l":5,"k":10,"v":-0.255,"r":2.709},{"l":5,"k":10,"v":-0.27,"r":2.7},
{"l":3,"k":11,"v":-0.695,"r":2.659},{"l":3,"k":11,"v":-0.676,"r":2.668},{"l":3,"k":11,"v":-0.66,"r":2.659},{"l":3,"k":11,"v":-0.676,"r":2.65}],
"bar":[{"l":0.5,"a":0,"b":0.5},{"l":1,"a":0.5,"b":1},{"l":1.5,"a":1,"b":1.5},{"l":2,"a":1.5,"b":2},{"l":2.5,"a":2,"b":2.5},{"l":3,"a":2.5,"b":3},{"l":3.5,"a":3,"b":3.5},{"l":4,"a":3.5,"b":4},{"l":4.5,"a":4,"b":4.5},{"l":5,"a":4.5,"b":5},{"l":5.5,"a":5,"b":5.5},{"l":6,"a":5.5,"b":6}]
},
"hconcat":[{"vconcat":[{"hconcat":[
{"width":257,"height":177,"title":{"text":"Classical","fontSize":11,"font":"Liberation Serif","fontWeight":"bold","offset":3,"color":"#222"},"resolve":{"axis":{"x":"independent","y":"independent"}},"layer":[
{"data":{"name":"a"},"transform":[{"window":[{"op":"row_number","as":"i"}]}],"mark":{"type":"line","interpolate":"cardinal-closed","tension":0.4,"clip":true},"encoding":{"order":{"field":"i","type":"quantitative"},"detail":{"field":"k"},"x":{"field":"v","type":"quantitative","scale":{"domain":[-0.815,0.815],"nice":false},"axis":{"orient":"bottom","title":null,"values":{"expr":"xt"},"labels":false,"tickSize":{"expr":"abs(datum.value*2-round(datum.value*2))<0.001?-6:-3"}}},"y":{"field":"r","type":"quantitative","scale":{"domain":[2.19,2.81],"nice":false},"axis":{"orient":"left","title":"rO-O [Å]","titleFontStyle":"italic","titleFontWeight":"normal","titlePadding":6,"labelPadding":9,"labelOverlap":false,"values":{"expr":"yt"},"labelExpr":"abs(datum.value*10-round(datum.value*10))<0.001?format(datum.value,'.1f'):''","tickSize":{"expr":"abs(datum.value*10-round(datum.value*10))<0.001?-6:-3"}}},"fill":{"field":"l","type":"ordinal","legend":null},"stroke":{"field":"l","type":"ordinal","legend":null,"scale":{"range":["#666","#111","#444","#111","#444","#111","#444","#111","#444","#111","#777"]}},"strokeWidth":{"field":"l","type":"ordinal","legend":null,"scale":{"range":[1,1.5,0.9,1.5,0.9,1.5,0.9,1.5,0.9,1.5,1.2]}}}},
{"data":{"values":[{"v":-0.785,"r":2.245,"t":"(a)"}]},"mark":{"type":"text","align":"left","fontWeight":"bold","fontSize":12,"color":"#222"},"encoding":{"text":{"field":"t"},"x":{"field":"v","type":"quantitative","axis":{"orient":"top","title":null,"values":{"expr":"xt"},"labels":false,"tickSize":{"expr":"abs(datum.value*2-round(datum.value*2))<0.001?-6:-3"}}},"y":{"field":"r","type":"quantitative","axis":{"orient":"right","title":null,"values":{"expr":"yt"},"labels":false,"tickSize":{"expr":"abs(datum.value*10-round(datum.value*10))<0.001?-6:-3"}}}}}]},
{"width":258,"height":177,"title":{"text":"Quantum","fontSize":11,"font":"Liberation Serif","fontWeight":"bold","offset":5,"color":"#222"},"resolve":{"axis":{"x":"independent","y":"independent"}},"layer":[
{"data":{"name":"b"},"transform":[{"window":[{"op":"row_number","as":"i"}]}],"mark":{"type":"line","interpolate":"cardinal-closed","tension":0.4,"clip":true},"encoding":{"order":{"field":"i","type":"quantitative"},"detail":{"field":"k"},"x":{"field":"v","type":"quantitative","scale":{"domain":[-0.82,0.82],"nice":false},"axis":{"orient":"bottom","title":null,"values":{"expr":"xt"},"labels":false,"tickSize":{"expr":"abs(datum.value*2-round(datum.value*2))<0.001?-6:-3"}}},"y":{"field":"r","type":"quantitative","scale":{"domain":[2.19,2.81],"nice":false},"axis":{"orient":"left","title":null,"values":{"expr":"yt"},"labels":false,"tickSize":{"expr":"abs(datum.value*10-round(datum.value*10))<0.001?-6:-3"}}},"fill":{"field":"l","type":"ordinal","legend":null},"stroke":{"field":"l","type":"ordinal","legend":null,"scale":{"range":["#666","#111","#444","#111","#444","#111","#444","#111","#444","#111","#777"]}},"strokeWidth":{"field":"l","type":"ordinal","legend":null,"scale":{"range":[1,1.5,0.9,1.5,0.9,1.5,0.9,1.5,0.9,1.5,1.2]}}}},
{"data":{"values":[{"v":-0.785,"r":2.245,"t":"(b)"}]},"mark":{"type":"text","align":"left","fontWeight":"bold","fontSize":12,"color":"#222"},"encoding":{"text":{"field":"t"},"x":{"field":"v","type":"quantitative","axis":{"orient":"top","title":null,"values":{"expr":"xt"},"labels":false,"tickSize":{"expr":"abs(datum.value*2-round(datum.value*2))<0.001?-6:-3"}}},"y":{"field":"r","type":"quantitative","axis":{"orient":"right","title":"150K","titleAngle":270,"titleFontWeight":"bold","titlePadding":14,"values":{"expr":"yt"},"labels":false,"tickSize":{"expr":"abs(datum.value*10-round(datum.value*10))<0.001?-6:-3"}}}}}]}
],"spacing":2},{"hconcat":[
{"width":257,"height":177,"resolve":{"axis":{"x":"independent","y":"independent"}},"layer":[
{"data":{"name":"c"},"transform":[{"window":[{"op":"row_number","as":"i"}]}],"mark":{"type":"line","interpolate":"cardinal-closed","tension":0.4,"clip":true},"encoding":{"order":{"field":"i","type":"quantitative"},"detail":{"field":"k"},"x":{"field":"v","type":"quantitative","scale":{"domain":[-0.815,0.815],"nice":false},"axis":{"orient":"bottom","title":"v [Å]","titleFontWeight":"bold","titlePadding":5,"labelPadding":10,"labelOverlap":false,"values":{"expr":"xt"},"labelExpr":"datum.value==0?'0':abs(abs(datum.value)-0.5)<0.001?(datum.value<0?'−0.5':'0.5'):''","tickSize":{"expr":"abs(datum.value*2-round(datum.value*2))<0.001?-6:-3"}}},"y":{"field":"r","type":"quantitative","scale":{"domain":[2.195,2.815],"nice":false},"axis":{"orient":"left","title":"rO-O [Å]","titleFontStyle":"italic","titleFontWeight":"normal","titlePadding":6,"labelPadding":9,"labelOverlap":false,"values":{"expr":"yt"},"labelExpr":"abs(datum.value*10-round(datum.value*10))<0.001?format(datum.value,'.1f'):''","tickSize":{"expr":"abs(datum.value*10-round(datum.value*10))<0.001?-6:-3"}}},"fill":{"field":"l","type":"ordinal","legend":null},"stroke":{"field":"l","type":"ordinal","legend":null,"scale":{"range":["#666","#111","#444","#111","#444","#111","#444","#111","#444","#111","#777"]}},"strokeWidth":{"field":"l","type":"ordinal","legend":null,"scale":{"range":[1,1.5,0.9,1.5,0.9,1.5,0.9,1.5,0.9,1.5,1.2]}}}},
{"data":{"values":[{"v":-0.785,"r":2.245,"t":"(c)"}]},"mark":{"type":"text","align":"left","fontWeight":"bold","fontSize":12,"color":"#222"},"encoding":{"text":{"field":"t"},"x":{"field":"v","type":"quantitative","axis":{"orient":"top","title":null,"values":{"expr":"xt"},"labels":false,"tickSize":{"expr":"abs(datum.value*2-round(datum.value*2))<0.001?-6:-3"}}},"y":{"field":"r","type":"quantitative","axis":{"orient":"right","title":null,"values":{"expr":"yt"},"labels":false,"tickSize":{"expr":"abs(datum.value*10-round(datum.value*10))<0.001?-6:-3"}}}}}]},
{"width":258,"height":177,"resolve":{"axis":{"x":"independent","y":"independent"}},"layer":[
{"data":{"name":"d"},"transform":[{"window":[{"op":"row_number","as":"i"}]}],"mark":{"type":"line","interpolate":"cardinal-closed","tension":0.4,"clip":true},"encoding":{"order":{"field":"i","type":"quantitative"},"detail":{"field":"k"},"x":{"field":"v","type":"quantitative","scale":{"domain":[-0.82,0.82],"nice":false},"axis":{"orient":"bottom","title":"v [Å]","titleFontWeight":"bold","titlePadding":5,"labelPadding":10,"labelOverlap":false,"values":{"expr":"xt"},"labelExpr":"datum.value==0?'0':abs(abs(datum.value)-0.5)<0.001?(datum.value<0?'−0.5':'0.5'):''","tickSize":{"expr":"abs(datum.value*2-round(datum.value*2))<0.001?-6:-3"}}},"y":{"field":"r","type":"quantitative","scale":{"domain":[2.195,2.815],"nice":false},"axis":{"orient":"left","title":null,"values":{"expr":"yt"},"labels":false,"tickSize":{"expr":"abs(datum.value*10-round(datum.value*10))<0.001?-6:-3"}}},"fill":{"field":"l","type":"ordinal","legend":null},"stroke":{"field":"l","type":"ordinal","legend":null,"scale":{"range":["#666","#111","#444","#111","#444","#111","#444","#111","#444","#111","#777"]}},"strokeWidth":{"field":"l","type":"ordinal","legend":null,"scale":{"range":[1,1.5,0.9,1.5,0.9,1.5,0.9,1.5,0.9,1.5,1.2]}}}},
{"data":{"values":[{"v":-0.785,"r":2.245,"t":"(d)"}]},"mark":{"type":"text","align":"left","fontWeight":"bold","fontSize":12,"color":"#222"},"encoding":{"text":{"field":"t"},"x":{"field":"v","type":"quantitative","axis":{"orient":"top","title":null,"values":{"expr":"xt"},"labels":false,"tickSize":{"expr":"abs(datum.value*2-round(datum.value*2))<0.001?-6:-3"}}},"y":{"field":"r","type":"quantitative","axis":{"orient":"right","title":"300K","titleAngle":270,"titleFontWeight":"bold","titlePadding":14,"values":{"expr":"yt"},"labels":false,"tickSize":{"expr":"abs(datum.value*10-round(datum.value*10))<0.001?-6:-3"}}}}}]}
],"spacing":2}],"spacing":-3},
{"width":35,"height":359,"layer":[
{"data":{"name":"bar"},"mark":{"type":"rect"},"encoding":{"y":{"field":"a","type":"quantitative","scale":{"domain":[-1.83,7.83],"nice":false},"axis":{"orient":"right","title":null,"domain":false,"labels":false,"values":{"expr":"ft"},"tickSize":-3}},"y2":{"field":"b"},"fill":{"field":"l","type":"ordinal","legend":null,"scale":{"domain":[0.5,1,1.5,2,2.5,3,3.5,4,4.5,5,5.5,6],"range":["#6a50a0","#47629d","#3d7198","#3b8398","#3f9499","#50a59b","#6bb79b","#8ac79b","#aed28f","#c9dd8e","#e4e9ad","#fbf8ee"]}}}},
{"data":{"name":"bar"},"mark":{"type":"rule"},"encoding":{"y":{"field":"b","type":"quantitative"},"stroke":{"field":"l","type":"ordinal","legend":null,"scale":{"domain":[0.5,1,1.5,2,2.5,3,3.5,4,4.5,5,5.5,6],"range":["#555","#111","#555","#111","#555","#111","#555","#111","#555","#111","#555","#444"]}},"strokeWidth":{"field":"l","type":"ordinal","legend":null,"scale":{"domain":[0.5,1,1.5,2,2.5,3,3.5,4,4.5,5,5.5,6],"range":[0.8,1.4,0.8,1.4,0.8,1.4,0.8,1.4,0.8,1.4,0.8,1.5]}}}},
{"data":{"values":[{"a":0,"b":6}]},"mark":{"type":"rect","fillOpacity":0,"stroke":"#444","strokeWidth":1.5},"encoding":{"y":{"field":"a","type":"quantitative"},"y2":{"field":"b"}}},
{"data":{"values":[{"a":0,"t":"0"},{"a":1,"t":"1"},{"a":2,"t":"2"},{"a":3,"t":"3"},{"a":4,"t":"4"},{"a":5,"t":"5"},{"a":6,"t":"6"}]},"mark":{"type":"text","fontSize":12,"color":"#333","align":"left","dx":20},"encoding":{"y":{"field":"a","type":"quantitative"},"text":{"field":"t"}}},
{"data":{"values":[{"a":-0.4,"t":"F / kB T"}]},"mark":{"type":"text","fontSize":12,"color":"#333"},"encoding":{"y":{"field":"a","type":"quantitative"},"text":{"field":"t"}}}
]}
],"spacing":21}
